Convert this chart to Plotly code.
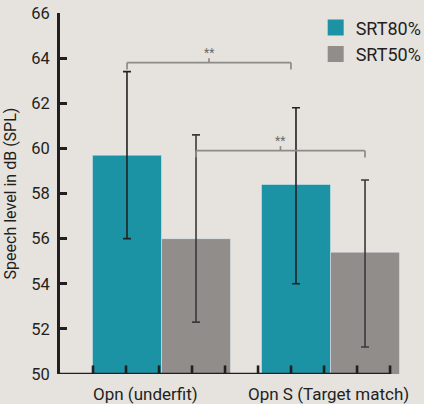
import plotly.graph_objects as go

# ---- data ----
categories = ["Opn (underfit)", "Opn S (Target match)"]
series_names = ["SRT80%", "SRT50%"]
srt80 = [59.7, 58.4]
srt80_err_plus = [3.7, 3.4]
srt80_err_minus = [3.7, 4.4]
srt50 = [56.0, 55.4]
srt50_err_plus = [4.6, 3.2]
srt50_err_minus = [3.7, 4.2]
y_ticks = [50, 52, 54, 56, 58, 60, 62, 64, 66]
# significance brackets: (group_a, series_a, group_b, series_b, bracket y, label)
sig_brackets = [(0, 0, 1, 0, 63.8, "**"), (0, 1, 1, 1, 59.9, "**")]

# ---- style ----
BG = "#e6e3df"
TEAL = "#1b93a4"
GREY = "#918d8a"
AXIS = "#231f20"
FONT = "Roboto"

xpos = list(range(len(categories)))
bar_w = 0.408
offsets = [-bar_w / 2, bar_w / 2]

fig = go.Figure()
fig.add_trace(go.Bar(
    x=xpos, y=srt80, name=series_names[0], marker_color=TEAL, showlegend=False,
    error_y=dict(type="data", symmetric=False, array=srt80_err_plus,
                 arrayminus=srt80_err_minus, color="#222222", thickness=1.6, width=4),
))
fig.add_trace(go.Bar(
    x=xpos, y=srt50, name=series_names[1], marker_color=GREY, showlegend=False,
    error_y=dict(type="data", symmetric=False, array=srt50_err_plus,
                 arrayminus=srt50_err_minus, color="#3a3a3a", thickness=1.6, width=4),
))

x0 = -0.6006
x1 = 1.4112
step = 0.1953
xticks = [x0 + k * step for k in range(1, 11)]

# x-axis line with small upward tick marks, drawn over the bars
tx, ty = [x0, xticks[-1], None], [50, 50, None]
for t in xticks:
    tx += [t, t, None]
    ty += [50, 50.38, None]
fig.add_trace(go.Scatter(x=tx, y=ty, mode="lines", line=dict(color=AXIS, width=2.6),
                         showlegend=False, hoverinfo="skip", cliponaxis=False))

# legend entries
for name, col in zip(series_names, [TEAL, GREY]):
    fig.add_trace(go.Scatter(x=[None], y=[None], mode="markers", name=name,
                             marker=dict(symbol="square", size=16, color=col)))

shapes = []
annotations = []
BR = "#8d8a87"
for ga, sa, gb, sb, yb, lab in sig_brackets:
    xa = xpos[ga] + offsets[sa]
    xb = xpos[gb] + offsets[sb]
    xb_adj = xb - 0.03 if sa == 0 else xb
    shapes.append(dict(type="line", xref="x", yref="y", x0=xa, x1=xb_adj, y0=yb, y1=yb,
                       line=dict(color=BR, width=1.7)))
    shapes.append(dict(type="line", xref="x", yref="y", x0=xa, x1=xa, y0=yb, y1=yb - 0.3,
                       line=dict(color=BR, width=1.7)))
    shapes.append(dict(type="line", xref="x", yref="y", x0=xb_adj, x1=xb_adj, y0=yb, y1=yb - 0.3,
                       line=dict(color=BR, width=1.7)))
    xm = (xa + xb_adj) / 2
    shapes.append(dict(type="line", xref="x", yref="y", x0=xm, x1=xm, y0=yb, y1=yb + 0.2,
                       line=dict(color=BR, width=1.7)))
    annotations.append(dict(x=xm, y=yb + 0.02, xref="x", yref="y", text=lab, showarrow=False,
                            yanchor="bottom", font=dict(size=12, color="#6e6b69", family=FONT)))

label_x = [-0.096, 0.99]
for cx, lab in zip(label_x, categories):
    annotations.append(dict(x=cx, y=-0.022, xref="x", yref="paper", text=lab, showarrow=False,
                            yanchor="top", xanchor="center", font=dict(size=17, color=AXIS, family=FONT)))

fig.update_layout(
    width=424, height=404,
    paper_bgcolor=BG, plot_bgcolor=BG,
    margin=dict(l=60, r=24, t=13, b=30, autoexpand=False),
    barmode="group", bargap=0.183, bargroupgap=0,
    font=dict(family=FONT, color=AXIS),
    shapes=shapes, annotations=annotations,
    legend=dict(x=0.752, y=1.01, xanchor="left", yanchor="top", bgcolor="rgba(0,0,0,0)",
                font=dict(size=18, color=AXIS, family=FONT), tracegroupgap=0, itemwidth=30),
    xaxis=dict(range=[x0, x1], showgrid=False, zeroline=False, showline=False,
               showticklabels=False, ticks=""),
    yaxis=dict(range=[50, 66], showgrid=False, zeroline=False, showline=True,
               linecolor=AXIS, linewidth=3, tickmode="array", tickvals=y_ticks,
               ticks="inside", ticklen=7, tickwidth=2.5, tickcolor=AXIS,
               ticklabelstandoff=4,
               tickfont=dict(size=16.5, color=AXIS, family=FONT),
               title=dict(text="Speech level in dB (SPL)", standoff=11,
                          font=dict(size=16, color=AXIS, family=FONT))),
)
fig.write_html("out.html", config={"displayModeBar": False},
               post_script="document.body.style.margin='0';")
